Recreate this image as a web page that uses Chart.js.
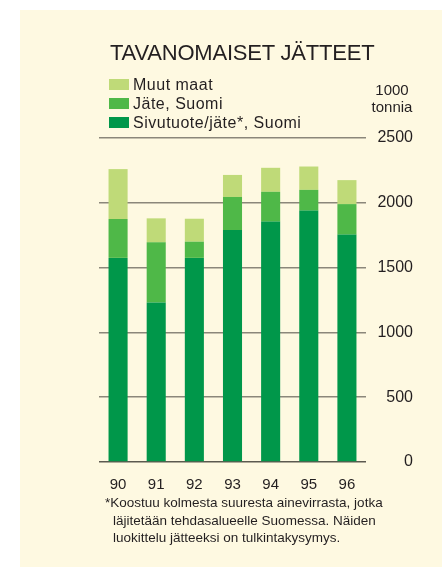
<!DOCTYPE html>
<html>
<head>
<meta charset="utf-8">
<script src="https://cdn.jsdelivr.net/npm/chart.js@4"></script>
<style>
  html, body { margin: 0; padding: 0; background: #fff; }
  body { width: 442px; height: 567px; position: relative; overflow: hidden;
         font-family: "Liberation Sans", Arial, sans-serif; color: #231f20; }
  #panel { position: absolute; left: 20px; top: 10px; width: 422px; height: 557px; background: #fef9e1; }
  #chart { position: absolute; left: 0; top: 0; }
  .txt { position: absolute; white-space: nowrap; }
  #title { left: 110px; top: 40px; font-size: 22px; letter-spacing: -0.2px; }
  .key { position: absolute; left: 109px; width: 20px; height: 11px; }
  .keytxt { left: 133px; font-size: 16px; line-height: 17px; letter-spacing: 0.5px; }
  #unit { left: 367px; top: 81px; width: 50px; text-align: center; font-size: 15px; line-height: 17px; }
  #note { left: 105px; top: 494px; font-size: 13.5px; line-height: 17.5px; }
  #note span { display: block; padding-left: 8px; }
  #note span:first-child { padding-left: 0; }
</style>
</head>
<body>
<div id="panel"></div>
<canvas id="chart" width="442" height="567"></canvas>
<div class="txt" id="title">TAVANOMAISET JÄTTEET</div>
<div id="legend"></div>
<div class="txt" id="unit">1000<br>tonnia</div>
<div class="txt" id="note">
  <span>*Koostuu kolmesta suuresta ainevirrasta, jotka</span>
  <span>läjitetään tehdasalueelle Suomessa. Näiden</span>
  <span>luokittelu jätteeksi on tulkintakysymys.</span>
</div>
<script>
// vuodet ja määrät (1000 tonnia)
const years = ["90", "91", "92", "93", "94", "95", "96"];
const sivutuote = [1575, 1230, 1575, 1790, 1855, 1940, 1755];
const jateSuomi = [300, 465, 125, 255, 230, 160, 235];
const muutMaat = [385, 185, 177, 170, 185, 180, 185];
const yTicks = [0, 500, 1000, 1500, 2000, 2500];

const colDark = "#00974a";
const colMid = "#4fb848";
const colLight = "#bfda78";

// legend, top row = top of the stack
const legendItems = [
  { label: "Muut maat", color: colLight },
  { label: "Jäte, Suomi", color: colMid },
  { label: "Sivutuote/jäte*, Suomi", color: colDark }
];
const legendEl = document.getElementById("legend");
legendItems.forEach((it, i) => {
  const top = 79 + i * 19;
  const sw = document.createElement("div");
  sw.className = "key";
  sw.style.top = top + "px";
  sw.style.background = it.color;
  legendEl.appendChild(sw);
  const t = document.createElement("div");
  t.className = "txt keytxt";
  t.style.top = (top - 3) + "px";
  t.textContent = it.label;
  legendEl.appendChild(t);
});

const ctx = document.getElementById("chart").getContext("2d");
new Chart(ctx, {
  type: "bar",
  data: {
    labels: years,
    datasets: [
      { label: "Sivutuote/jäte*, Suomi", data: sivutuote, backgroundColor: colDark },
      { label: "Jäte, Suomi", data: jateSuomi, backgroundColor: colMid },
      { label: "Muut maat", data: muutMaat, backgroundColor: colLight }
    ]
  },
  options: {
    responsive: false,
    devicePixelRatio: 1,
    animation: false,
    layout: { padding: { left: 99, right: 29, top: 138, bottom: 0 } },
    datasets: { bar: { categoryPercentage: 1, barPercentage: 0.5, borderWidth: 0 } },
    plugins: { legend: { display: false }, tooltip: { enabled: false } },
    scales: {
      x: {
        stacked: true,
        grid: { display: false },
        border: { display: false },
        ticks: { color: "#231f20", padding: 6, font: { family: "Liberation Sans", size: 15 } },
        afterFit: (s) => { s.height = 105; }
      },
      y: {
        stacked: true,
        position: "right",
        min: 0,
        max: 2500,
        afterBuildTicks: (s) => { s.ticks = yTicks.map(v => ({ value: v })); },
        afterFit: (s) => { s.width = 47; },
        border: { display: false },
        grid: {
          drawTicks: false,
          color: (c) => c.tick && c.tick.value === 0 ? "#5c5a50" : "#8b877a",
          lineWidth: 1.5
        },
        ticks: {
          crossAlign: "far",
          color: "#231f20",
          font: { family: "Liberation Sans", size: 16 },
          callback: (v) => String(v)
        }
      }
    }
  }
});
</script>
</body>
</html>
